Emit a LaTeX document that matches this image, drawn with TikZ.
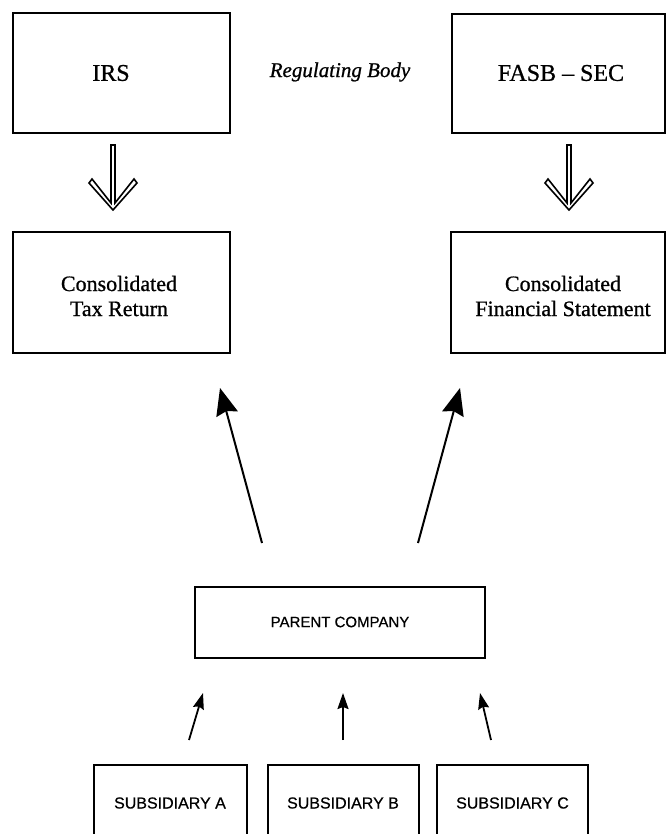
\documentclass[tikz,border=0pt]{standalone}
\usepackage{fontspec}
\setmainfont{Liberation Serif}[FakeBold=0.8]
\newfontfamily\sansf{Liberation Sans}[FakeBold=0.6]
\usetikzlibrary{arrows.meta}
\tikzset{
  box/.style={draw, line width=2pt, inner sep=0pt},
  lbl/.style={inner sep=0pt, align=center},
  toptext/.style={lbl, font=\fontsize{24}{28}\selectfont},
  midtext/.style={lbl, font=\fontsize{22}{25}\selectfont},
  captext/.style={lbl, font=\sansf\fontsize{15}{18}\selectfont},
  subtext/.style={lbl, font=\sansf\fontsize{16}{19}\selectfont},
  bigarrow/.style={line width=2pt, -{Stealth[length=27pt,width=22pt,inset=3pt]}},
  smallarrow/.style={line width=1.8pt, -{Stealth[length=16pt,width=11pt,inset=2pt]}},
  hollow/.style={line width=1.6pt, line join=miter}
}
\begin{document}
\begin{tikzpicture}[x=1pt,y=-1pt]
\useasboundingbox (0,0) rectangle (666,834);
% boxes
\node[box, minimum width=217, minimum height=120] (irs) at (121.5,73) {};
\node[box, minimum width=213, minimum height=119] (fasb) at (558.5,73.5) {};
\node[box, minimum width=217, minimum height=121] (tax) at (121.5,292.5) {};
\node[box, minimum width=214, minimum height=121] (fin) at (558,292.5) {};
\node[box, minimum width=290, minimum height=71] (parent) at (340,622.5) {};
\node[box, minimum width=153, minimum height=76] (suba) at (170,803) {};
\node[box, minimum width=151, minimum height=76] (subb) at (343,803) {};
\node[box, minimum width=151, minimum height=76] (subc) at (512.5,803) {};
% texts
\node[toptext] (irst) at (111,73) {IRS};
\node[toptext] (fasbt) at (561,73) {FASB -- SEC};
\node[lbl, font=\itshape\fontsize{21}{24}\selectfont] (reg) at (340,72) {Regulating Body};
\node[midtext] (taxt) at (119,296) {Consolidated\\Tax Return};
\node[midtext] (fint) at (563,296) {Consolidated\\Financial Statement};
\node[captext] (part) at (340,622) {PARENT COMPANY};
\node[subtext] (subat) at (170,803) {SUBSIDIARY A};
\node[subtext] (subbt) at (343,803) {SUBSIDIARY B};
\node[subtext] (subct) at (512.5,803) {SUBSIDIARY C};
% hollow arrows
\coordinate (h1) at (113,145);
\coordinate (h2) at (569,145);
\foreach \h in {h1,h2}{
  \draw[hollow] ([shift={(-2,0)}]\h) -- ([shift={(2,0)}]\h) -- ([shift={(2,58)}]\h)
    -- ([shift={(21,34)}]\h) -- ([shift={(24,38)}]\h) -- ([shift={(0,65)}]\h)
    -- ([shift={(-24,38)}]\h) -- ([shift={(-21,34)}]\h) -- ([shift={(-2,58)}]\h) -- cycle;
}
% big arrows
\coordinate (b1s) at (262,543);
\coordinate (b1e) at (220,388);
\coordinate (b2s) at (418,543);
\coordinate (b2e) at (460,388);
\draw[bigarrow] (b1s) -- (b1e);
\draw[bigarrow] (b2s) -- (b2e);
% small arrows
\coordinate (s1s) at (189,740);
\coordinate (s1e) at (203,693);
\coordinate (s2s) at (343,740);
\coordinate (s2e) at (343,693);
\coordinate (s3s) at (491,740);
\coordinate (s3e) at (480,693);
\draw[smallarrow] (s1s) -- (s1e);
\draw[smallarrow] (s2s) -- (s2e);
\draw[smallarrow] (s3s) -- (s3e);
\end{tikzpicture}
\end{document}
